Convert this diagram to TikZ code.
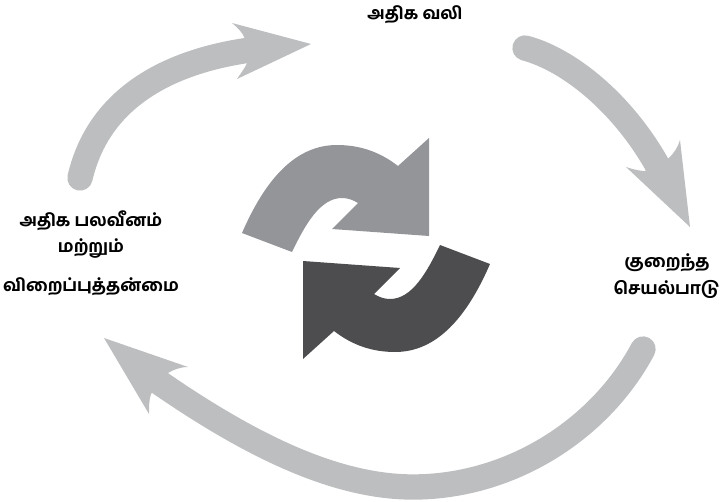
\documentclass[tikz,border=0pt]{standalone}
\usepackage{fontspec}
\newfontfamily\tamilfont[Script=Tamil,BoldFont={Hind Madurai Bold}]{Hind Madurai}
\usepackage{xcolor}
\definecolor{bandgray}{HTML}{BCBEC0}
\definecolor{midgray}{HTML}{939598}
\definecolor{darkgray}{HTML}{4D4D4F}

\begin{document}
\begin{tikzpicture}[
    x=0.75pt, y=-0.75pt,
    label/.style={
      align=center, inner sep=0pt,
      font=\fontsize{12.8pt}{17pt}\tamilfont\bfseries
    },
    band/.style={draw=bandgray, line width=19pt, line cap=round},
    head/.style={fill=bandgray, draw=none},
    swirl/.style={draw=none}
  ]
    \useasboundingbox (0,0) rectangle (720,502);

    % --- Labels ---
    \node[label] (pain) at (415,15) {அதிக வலி};
    \node[label] (activity) at (667,276) {குறைந்த\\[3pt]செயல்பாடு};
    \node[label] (weak) at (91,253) {அதிக பலவீனம்\\[3pt]மற்றும்\\[12pt]விறைப்புத்தன்மை};

    % --- Arrow ends ---
    \coordinate (leftfoot) at (80,178);
    \coordinate (lefttip) at (311,44);
    \coordinate (rightfoot) at (525,48);
    \coordinate (righttip) at (690,227);
    \coordinate (lowfoot) at (643,349);
    \coordinate (lowbend) at (413,487);
    \coordinate (lowtip) at (104,338);

    % --- Weak to pain ---
    \draw[band] (leftfoot) .. controls (98,100) and (165,62) .. (250,50);
    \fill[head] (232,23) -- (lefttip) -- (237,79)
      .. controls (241,73) and (245,68) .. (247,63) -- (245,39)
      .. controls (243,33) and (238,28) .. cycle;

    % --- Pain to activity ---
    \draw[band] (rightfoot) .. controls (570,60) and (625,105) .. (660,170);
    \fill[head] (680,140) -- (righttip) -- (626,167)
      .. controls (632,169) and (639,171) .. (645,171) -- (669,158)
      .. controls (674,153) and (678,147) .. cycle;

    % --- Activity to weak ---
    \draw[band] (lowfoot) .. controls (600,430) and (510,487) .. (lowbend)
      .. controls (335,487) and (250,445) .. (160,383);
    \fill[head] (188,367) -- (lowtip) -- (149,414)
      .. controls (149,407) and (149,400) .. (151,394) -- (168,373)
      .. controls (173,370) and (180,367) .. cycle;

    % --- Centre, light ---
    \fill[midgray, swirl] (242,233) -- (292,252)
      .. controls (305,225) and (320,198) .. (342,198)
      .. controls (348,198) and (353,200) .. (358,203)
      -- (332,229) -- (429,236) -- (429,138) -- (398,166)
      .. controls (380,152) and (360,145) .. (337,145)
      .. controls (295,145) and (265,180) .. cycle;

    % --- Centre, dark ---
    \fill[darkgray, swirl] (490,264) -- (440,245)
      .. controls (427,272) and (412,299) .. (390,299)
      .. controls (384,299) and (379,297) .. (374,294)
      -- (400,268) -- (303,261) -- (303,359) -- (334,331)
      .. controls (352,345) and (372,352) .. (395,352)
      .. controls (437,352) and (467,317) .. cycle;

\end{tikzpicture}
\end{document}
